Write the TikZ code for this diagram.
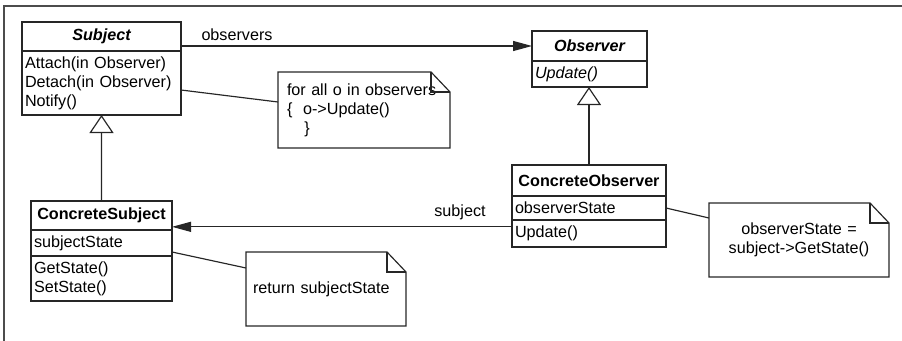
\documentclass[tikz,border=0pt]{standalone}
\usepackage{fontspec}
\setmainfont{Liberation Sans}
\usetikzlibrary{arrows.meta,positioning}

\tikzset{
  uml/.style={draw=black!85, line width=1pt, inner ysep=0pt, outer sep=0pt,
    font=\fontsize{13.8}{16.2}\selectfont},
  umlhead/.style={uml, align=center},
  umlbody/.style={uml, align=left, inner xsep=0.09cm},
  note/.style={inner ysep=0pt, outer sep=0pt, align=left, font=\fontsize{13.8}{16.2}\selectfont},
  lbl/.style={font=\fontsize{13.8}{16.2}\selectfont, inner sep=0pt},
  link/.style={draw=black!85, line width=1pt},
  assoc/.style={link, -{Triangle[length=0.57cm,width=0.3cm]}},
  inherit/.style={link, -{Triangle[length=0.54cm,width=0.72cm,fill=white]}},
}

\begin{document}
\begin{tikzpicture}[x=0.03cm, y=-0.03cm]
\useasboundingbox (0,0) rectangle (902,341);
% frame
\draw[line width=1.6pt, black!70] (4,341) -- (4,6) -- (902,6);

% classes
\node[umlhead, anchor=north west, minimum width=4.77cm, minimum height=0.87cm] (subject) at (22,22) {\bfseries\itshape Subject};
\node[umlbody, below=0pt of subject, text width=4.59cm, minimum height=1.92cm] (subjectops) {Attach(in Observer)\\Detach(in Observer)\\Notify()};

\node[umlhead, anchor=north west, minimum width=3.45cm, minimum height=0.9cm] (observer) at (532,31) {\bfseries\itshape Observer};
\node[umlbody, below=0pt of observer, text width=3.27cm, minimum height=0.78cm] (observerops) {\itshape Update()};

\node[umlhead, anchor=north west, minimum width=4.62cm, minimum height=0.93cm] (cobserver) at (512,165) {\bfseries ConcreteObserver};
\node[umlbody, below=0pt of cobserver, text width=4.44cm, minimum height=0.72cm] (cobserverstate) {observerState};
\node[umlbody, below=0pt of cobserverstate, text width=4.44cm, minimum height=0.81cm] (cobserverops) {Update()};

\node[umlhead, anchor=north west, minimum width=4.23cm, minimum height=0.87cm] (csubject) at (31,201) {\bfseries ConcreteSubject};
\node[umlbody, below=0pt of csubject, text width=4.05cm, minimum height=0.78cm] (csubjectstate) {subjectState};
\node[umlbody, below=0pt of csubjectstate, text width=4.05cm, minimum height=1.35cm] (csubjectops) {GetState()\\SetState()};

% notes
\node[note, anchor=north west, minimum width=5.16cm, minimum height=2.28cm, text width=4.62cm, inner xsep=0.27cm] (notifynote) at (278,72) {for all o in observers\\\{\hspace{0.32cm}o->Update()\\\hspace*{0.52cm}\}};
\node[note, anchor=north west, minimum width=4.8cm, minimum height=2.22cm, text width=4.38cm, inner xsep=0.21cm] (getstatenote) at (246,252) {return subjectState};
\node[note, anchor=north west, align=center, minimum width=5.4cm, minimum height=2.22cm, text width=4.8cm, inner xsep=0.3cm] (updatenote) at (709,203) {observerState =\\subject->GetState()};

\foreach \n in {notifynote,getstatenote,updatenote}{
  \draw[link] (\n.north west) -- ([xshift=-0.57cm]\n.north east) -- ([yshift=-0.6cm]\n.north east) -- (\n.south east) -- (\n.south west) -- cycle;
  \draw[link] ([xshift=-0.57cm]\n.north east) -- ([xshift=-0.57cm,yshift=-0.6cm]\n.north east) -- ([yshift=-0.6cm]\n.north east);
}

% associations
\draw[assoc] (subject.east |- observer.west) -- (observer.west);
\node[lbl] (observerslbl) at (237,35) {observers};
\coordinate (subjend) at ([yshift=0.2cm]cobserverops.west);
\draw[assoc] (subjend) -- (subjend -| csubject.east);
\node[lbl] (subjectlbl) at (460,212) {subject};

% generalizations
\draw[inherit] (cobserver.north) -- (cobserver.north |- observerops.south);
\draw[inherit] (csubject.north) -- (subjectops.south);

% note links
\draw[link] ([yshift=-0.21cm]subjectops.east) -- ([yshift=0.24cm]notifynote.west);
\draw[link] ([yshift=-0.27cm]csubjectstate.east) -- ([yshift=0.63cm]getstatenote.west);
\draw[link] (cobserverstate.east) -- ([yshift=0.66cm]updatenote.west);
\end{tikzpicture}
\end{document}
